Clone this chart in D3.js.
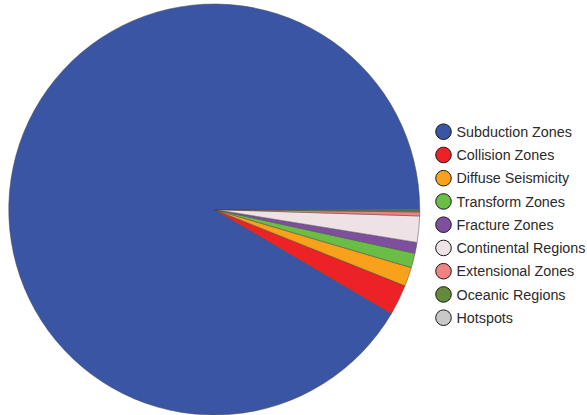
<!DOCTYPE html>
<html>
<head>
<meta charset="utf-8">
<script src="https://cdn.jsdelivr.net/npm/d3@7"></script>
<style>
  html, body { margin: 0; padding: 0; background: #fff; }
  svg { display: block; }
</style>
</head>
<body>
<svg id="chart" width="587" height="415"></svg>
<script>
// Share of seismicity by tectonic setting (percent)
const categories = [
  "Subduction Zones", "Collision Zones", "Diffuse Seismicity", "Transform Zones",
  "Fracture Zones", "Continental Regions", "Extensional Zones", "Oceanic Regions", "Hotspots"
];
const shares = [91.54, 2.40, 1.50, 1.14, 0.86, 2.06, 0.31, 0.15, 0.04];
const colors = [
  "#3a55a4", "#ec2227", "#f9a11b", "#6abd45", "#7e4f9f",
  "#efe2e7", "#ef8283", "#648a3b", "#c8c8c8"
];

const svg = d3.select("#chart");
const cx = 214.25, cy = 209.5, radius = 205.5;

const data = categories.map((c, i) => ({ name: c, value: shares[i], color: colors[i] }));

// Start at 3 o'clock and run counter-clockwise
const pie = d3.pie()
  .sort(null)
  .value(d => d.value)
  .startAngle(Math.PI / 2)
  .endAngle(Math.PI / 2 - 2 * Math.PI);

const arc = d3.arc().innerRadius(0).outerRadius(radius);

const g = svg.append("g").attr("transform", `translate(${cx},${cy})`);
g.selectAll("path")
  .data(pie(data))
  .join("path")
  .attr("d", arc)
  .attr("fill", d => d.data.color)
  .attr("stroke", "#4a4a4a")
  .attr("stroke-width", 0.5)
  .attr("stroke-linejoin", "round");

// Legend
const legend = svg.append("g").attr("transform", "translate(443.5,131.7)");
const step = 23.25;
const items = legend.selectAll("g")
  .data(data)
  .join("g")
  .attr("transform", (d, i) => `translate(0,${i * step})`);

items.append("circle")
  .attr("r", 7.8)
  .attr("fill", d => d.color)
  .attr("stroke", "#1a1a1a")
  .attr("stroke-width", 1);

const labels = items.append("text")
  .attr("x", 13)
  .attr("dy", "0.36em")
  .attr("font-family", "Liberation Sans, Arial, Helvetica, sans-serif")
  .attr("font-size", 14)
  .attr("fill", "#2b2b2b")
  .text(d => d.name);

// Fit the longest label to the available width
const longest = labels.filter(d => d.name === "Continental Regions").node();
const w = longest.getComputedTextLength();
const fs = 14 * 129 / w;
labels.attr("font-size", fs);
</script>
</body>
</html>
